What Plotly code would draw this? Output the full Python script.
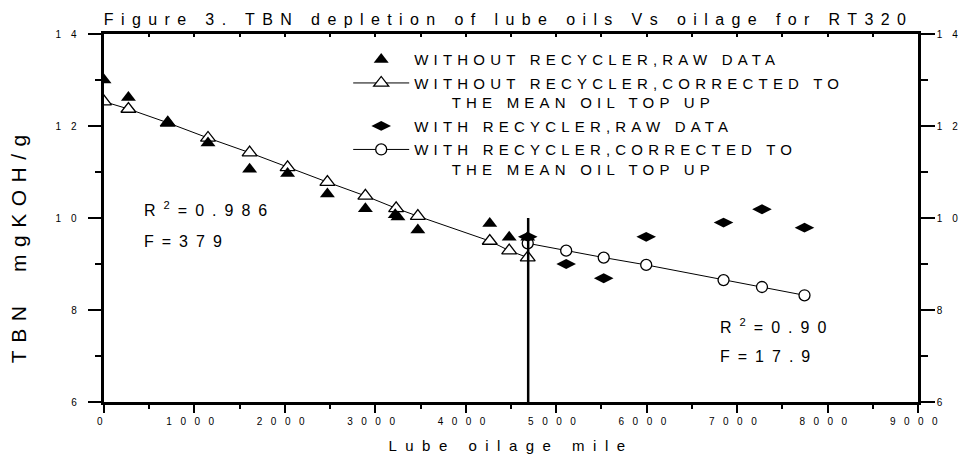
import plotly.graph_objects as go

# ---- data ----
without_raw_x = [0, 270, 705, 1150, 1610, 2030, 2470, 2890, 3220, 3250, 3470, 4265, 4480, 4685]
without_raw_y = [13.00, 12.62, 12.07, 11.63, 11.06, 10.97, 10.52, 10.20, 10.07, 10.02, 9.74, 9.88, 9.58, 9.58]

without_corr_x = [0, 270, 705, 1150, 1610, 2030, 2470, 2890, 3230, 3470, 4265, 4480, 4685]
without_corr_y = [12.53, 12.37, 12.07, 11.74, 11.42, 11.10, 10.78, 10.48, 10.21, 10.04, 9.50, 9.29, 9.14]

with_raw_x = [4685, 5110, 5525, 5995, 6850, 7275, 7745]
with_raw_y = [9.59, 9.00, 8.69, 9.59, 9.90, 10.19, 9.79]

with_corr_x = [4685, 5110, 5525, 5995, 6850, 7275, 7745]
with_corr_y = [9.45, 9.29, 9.14, 8.98, 8.65, 8.50, 8.32]

series_names = [
    "WITHOUT RECYCLER,RAW DATA",
    "WITHOUT RECYCLER,CORRECTED TO<br>\u00a0\u00a0\u00a0\u00a0THE MEAN OIL TOP UP",
    "WITH RECYCLER,RAW DATA",
    "WITH RECYCLER,CORRECTED TO<br>\u00a0\u00a0\u00a0\u00a0THE MEAN OIL TOP UP",
]

x_ticks = [0, 1000, 2000, 3000, 4000, 5000, 6000, 7000, 8000, 9000]
y_ticks = [6, 8, 10, 12, 14]

split_mileage = 4690
split_tbn_top = 10.0

fit_labels = ["R<sup>2</sup>=0.986", "F=379", "R<sup>2</sup>=0.90", "F=17.9"]

FONT = "Liberation Sans, Arial, sans-serif"
BLACK = "#000000"

fig = go.Figure()

fig.add_trace(go.Scatter(
    x=without_corr_x, y=without_corr_y, name=series_names[1], legendrank=2, legendgroup="b",
    mode="lines+markers", line=dict(color=BLACK, width=1),
    marker=dict(symbol="triangle-up", size=13, color="white", line=dict(color=BLACK, width=1.3)),
))
fig.add_trace(go.Scatter(
    x=with_corr_x, y=with_corr_y, name=series_names[3], legendrank=4, legendgroup="d",
    mode="lines+markers", line=dict(color=BLACK, width=1),
    marker=dict(symbol="circle", size=11, color="white", line=dict(color=BLACK, width=1.3)),
))
fig.add_trace(go.Scatter(
    x=without_raw_x, y=without_raw_y, name=series_names[0], legendrank=1, legendgroup="a",
    mode="markers",
    marker=dict(symbol="triangle-up", size=13, color=BLACK, line=dict(color=BLACK, width=0)),
))
fig.add_trace(go.Scatter(
    x=with_raw_x, y=with_raw_y, name=series_names[2], legendrank=3, legendgroup="c",
    mode="markers",
    marker=dict(symbol="diamond-wide", size=14, color=BLACK, line=dict(color=BLACK, width=0)),
))
# helper trace to activate the mirrored top / right axes
fig.add_trace(go.Scatter(x=[None], y=[None], xaxis="x2", yaxis="y2", showlegend=False,
                         hoverinfo="skip", mode="markers"))

fig.add_shape(type="line", xref="x", yref="y",
              x0=split_mileage, x1=split_mileage, y0=y_ticks[0], y1=split_tbn_top,
              line=dict(color=BLACK, width=2.5))

ann_font = dict(family=FONT, size=16, color=BLACK)
fig.add_annotation(x=425, y=10.185, xref="x", yref="y", text=fit_labels[0], showarrow=False,
                   xanchor="left", yanchor="middle", align="left", font=ann_font)
fig.add_annotation(x=425, y=9.484, xref="x", yref="y", text=fit_labels[1], showarrow=False,
                   xanchor="left", yanchor="middle", align="left", font=ann_font)
fig.add_annotation(x=6790, y=7.654, xref="x", yref="y", text=fit_labels[2], showarrow=False,
                   xanchor="left", yanchor="middle", align="left", font=ann_font)
fig.add_annotation(x=6790, y=6.979, xref="x", yref="y", text=fit_labels[3], showarrow=False,
                   xanchor="left", yanchor="middle", align="left", font=ann_font)
# y-axis title as rotated annotation
fig.add_annotation(x=-0.105, y=0.425, xref="paper", yref="paper", text="TBN  mgKOH/g",
                   showarrow=False, textangle=-90, xanchor="center", yanchor="middle",
                   font=dict(family=FONT, size=21, color=BLACK))

tick_font = dict(family=FONT, size=10, color=BLACK)
axis_common = dict(showgrid=False, zeroline=False, showline=True, linecolor=BLACK, linewidth=2.5)

fig.update_layout(
    width=967, height=459,
    margin=dict(l=103.5, r=49.3, t=34.3, b=57.3),
    paper_bgcolor="white", plot_bgcolor="white",
    font=dict(family=FONT, color=BLACK),
    title=dict(text="Figure 3. TBN depletion of lube oils Vs oilage for RT320",
               x=0.497, xref="paper", xanchor="center", y=0.957, yref="container", yanchor="middle",
               font=dict(family=FONT, size=16, color=BLACK)),
    showlegend=True,
    legend=dict(x=0.3, y=0.975, xanchor="left", yanchor="top", xref="paper", yref="paper",
                bgcolor="rgba(0,0,0,0)", borderwidth=0, valign="top", itemwidth=56,
                tracegroupgap=1, font=dict(family=FONT, size=15, color=BLACK)),
    xaxis=dict(range=[0, 9000], tickvals=x_ticks, ticks="outside", ticklen=8, tickwidth=2,
               tickcolor=BLACK, tickfont=tick_font,
               minor=dict(dtick=500, tick0=0, ticks="outside", ticklen=4, tickwidth=2, tickcolor=BLACK),
               title=dict(text="Lube oilage mile", standoff=8, font=dict(family=FONT, size=15, color=BLACK)),
               **axis_common),
    yaxis=dict(range=[6, 14], tickvals=y_ticks, ticks="outside", ticklen=13, tickwidth=2,
               tickcolor=BLACK, tickfont=tick_font,
               minor=dict(dtick=1, tick0=0, ticks="outside", ticklen=6, tickwidth=2, tickcolor=BLACK),
               **axis_common),
    xaxis2=dict(range=[0, 9000], overlaying="x", side="top", anchor="y2", tickvals=x_ticks,
                ticks="inside", ticklen=3, tickwidth=1.5, tickcolor=BLACK, showticklabels=False,
                minor=dict(dtick=500, tick0=0, ticks="inside", ticklen=3, tickwidth=1.5, tickcolor=BLACK),
                **axis_common),
    yaxis2=dict(range=[6, 14], overlaying="y", side="right", anchor="x2", tickvals=y_ticks,
                ticks="outside", ticklen=14, tickwidth=2, tickcolor=BLACK, tickfont=tick_font,
                minor=dict(dtick=1, tick0=0, ticks="outside", ticklen=7, tickwidth=2, tickcolor=BLACK),
                **axis_common),
)

post_js = """
document.body.style.margin = '0';
document.body.style.padding = '0';
var gd = document.getElementById('{plot_id}');
function sp(sel, v) {
  gd.querySelectorAll(sel).forEach(function (t) { t.style.letterSpacing = v + 'px'; });
}
sp('.gtitle', 7.4);
sp('g.xtick text', 8.5);
sp('g.y2tick text', 10);
sp('.legendtext', 5.2);
sp('.xtitle', 8.5);
gd.querySelectorAll('.annotation-text').forEach(function (t) {
  var v = t.textContent.indexOf('TBN') >= 0 ? 7.5 : 8;
  t.style.letterSpacing = v + 'px';
});
gd.querySelectorAll('.legend [clip-path]').forEach(function (e) { e.removeAttribute('clip-path'); });
// left-axis labels: letter-spaced, right edge kept 10px further from the ticks
gd.querySelectorAll('g.ytick text').forEach(function (t) {
  var L = 10;
  t.style.letterSpacing = '0px';
  var b0 = t.getBBox();
  var right0 = b0.x + b0.width;
  t.style.letterSpacing = L + 'px';
  t.setAttribute('text-anchor', 'start');
  var b1 = t.getBBox();
  var curX = parseFloat(t.getAttribute('x')) || 0;
  var visRight = b1.x + b1.width - L;
  t.setAttribute('x', curX + (right0 - 10 - visRight));
});
var xt = gd.querySelector('.xtitle');
if (xt) { xt.setAttribute('dy', '7'); }
"""

fig.write_html("out.html", post_script=post_js, config={"displayModeBar": False})
